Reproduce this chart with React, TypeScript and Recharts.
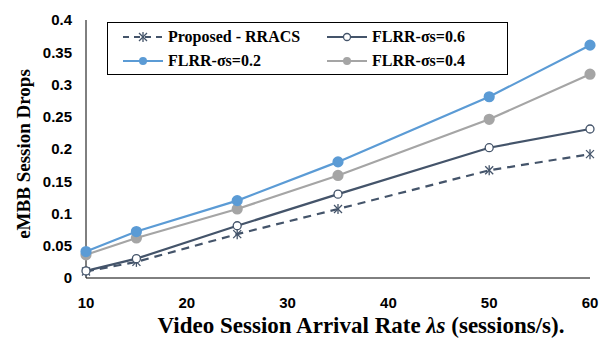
import { Line, LineChart, XAxis, YAxis, Label } from 'recharts'

const rates = [10, 15, 25, 35, 50, 60]
const proposed = [0.01, 0.025, 0.068, 0.107, 0.167, 0.192]
const sigma06 = [0.011, 0.03, 0.081, 0.13, 0.202, 0.231]
const sigma02 = [0.041, 0.072, 0.12, 0.18, 0.281, 0.361]
const sigma04 = [0.036, 0.062, 0.107, 0.159, 0.246, 0.316]
const xTicks = [10, 20, 30, 40, 50, 60]
const yTicks = [0, 0.05, 0.1, 0.15, 0.2, 0.25, 0.3, 0.35, 0.4]

const data = rates.map((r, i) => ({
  rate: r,
  proposed: proposed[i],
  s06: sigma06[i],
  s02: sigma02[i],
  s04: sigma04[i],
}))

const DARK = '#44546A'
const BLUE = '#5B9BD5'
const GRAY = '#A5A5A5'

const tickFont = { fontFamily: 'Liberation Sans, Arial, sans-serif', fontWeight: 700, fontSize: 15, fill: '#000' }
const serif = 'Liberation Serif, Times New Roman, serif'

function Star(props: any) {
  const { cx, cy } = props
  if (cx == null || cy == null) return null
  const r = 5
  const d = r * 0.8
  return (
    <g stroke={DARK} strokeWidth={1.3}>
      <line x1={cx} y1={cy - r} x2={cx} y2={cy + r} />
      <line x1={cx - d} y1={cy - d} x2={cx + d} y2={cy + d} />
      <line x1={cx - d} y1={cy + d} x2={cx + d} y2={cy - d} />
    </g>
  )
}

function LegendMark({ color, kind }: { color: string; kind: string }) {
  return (
    <svg width={40} height={12} style={{ marginRight: 5 }}>
      <line x1={0} y1={6} x2={40} y2={6} stroke={color} strokeWidth={2.2} strokeDasharray={kind === 'star' ? '6 5' : undefined} />
      {kind === 'star' ? (
        <g stroke={color} strokeWidth={1.3}>
          <line x1={20} y1={1} x2={20} y2={11} />
          <line x1={16} y1={2} x2={24} y2={10} />
          <line x1={16} y1={10} x2={24} y2={2} />
        </g>
      ) : kind === 'open' ? (
        <circle cx={20} cy={6} r={3.5} fill="#fff" stroke={color} strokeWidth={1.3} />
      ) : (
        <circle cx={20} cy={6} r={4} fill={color} />
      )}
    </svg>
  )
}

const legendItems = [
  { name: 'Proposed - RRACS', color: DARK, kind: 'star' },
  { name: 'FLRR-σs=0.6', color: DARK, kind: 'open' },
  { name: 'FLRR-σs=0.2', color: BLUE, kind: 'fill' },
  { name: 'FLRR-σs=0.4', color: GRAY, kind: 'fill' },
]

function LegendBox() {
  return (
    <div
      style={{
        position: 'absolute',
        left: 107,
        top: 22,
        border: '1px solid #000',
        background: '#fff',
        width: 401,
        height: 53,
        boxSizing: 'border-box',
        display: 'grid',
        gridTemplateColumns: '204px 190px',
        paddingLeft: 15,
        paddingTop: 4,
        fontFamily: serif,
        fontWeight: 700,
        fontSize: 16,
        color: '#000',
      }}
    >
      {legendItems.map((it) => (
        <div key={it.name} style={{ display: 'flex', alignItems: 'center', height: 20 }}>
          <LegendMark color={it.color} kind={it.kind} />
          <span>{it.name}</span>
        </div>
      ))}
    </div>
  )
}

export default function App() {
  return (
    <div style={{ position: 'absolute', left: 0, top: 0, width: 601, height: 343, background: '#fff' }}>
      <LineChart width={601} height={343} data={data} margin={{ top: 20, right: 11, left: 0, bottom: 0 }}>
        <XAxis
          dataKey="rate"
          type="number"
          domain={[10, 60]}
          ticks={xTicks}
          tickLine={false}
          tickMargin={13}
          tick={tickFont}
          stroke="#000"
          height={65}
        >
          <Label
            content={() => (
              <text x={361} y={333} textAnchor="middle" fontFamily={serif} fontWeight={700} fontSize={23} fill="#000">
                Video Session Arrival Rate <tspan fontStyle="italic">λs</tspan> (sessions/s).
              </text>
            )}
          />
        </XAxis>
        <YAxis
          domain={[0, 0.4]}
          ticks={yTicks}
          tickLine={false}
          tickMargin={8}
          tick={tickFont}
          stroke="#000"
          width={86}
        >
          <Label
            content={() => (
              <text
                x={30}
                y={154}
                transform="rotate(-90 30 154)"
                textAnchor="middle"
                fontFamily={serif}
                fontWeight={700}
                fontSize={19}
                fill="#000"
              >
                eMBB Session Drops
              </text>
            )}
          />
        </YAxis>
        <Line
          dataKey="proposed"
          stroke={DARK}
          strokeWidth={2.2}
          strokeDasharray="8 6"
          dot={<Star />}
          isAnimationActive={false}
        />
        <Line
          dataKey="s06"
          stroke={DARK}
          strokeWidth={2.2}
          dot={{ r: 4, fill: '#fff', stroke: DARK, strokeWidth: 1.3 }}
          isAnimationActive={false}
        />
        <Line
          dataKey="s04"
          stroke={GRAY}
          strokeWidth={2.2}
          dot={{ r: 4.5, fill: GRAY, stroke: GRAY }}
          isAnimationActive={false}
        />
        <Line
          dataKey="s02"
          stroke={BLUE}
          strokeWidth={2.2}
          dot={{ r: 4.5, fill: BLUE, stroke: BLUE }}
          isAnimationActive={false}
        />
      </LineChart>
      <LegendBox />
    </div>
  )
}
